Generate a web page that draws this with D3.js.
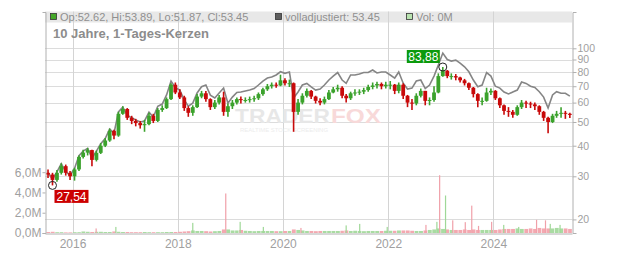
<!DOCTYPE html>
<html>
<head>
<meta charset="utf-8">
<script src="https://cdn.jsdelivr.net/npm/d3@7"></script>
<style>
body { margin: 0; background: #fff; }
svg { display: block; font-family: "Liberation Sans", Arial, sans-serif; }
</style>
</head>
<body>
<svg id="chart"></svg>
<script>
var width = 632;
var height = 253;
var plotLeft = 45, plotRight = 572, plotTop = 12, plotBottom = 233;

// monthly candles, Jul 2015 .. Jun 2025
var firstOpen = 31;
var closes = [30.5, 29, 31, 33, 31, 30,
	32, 36, 37.5, 38.4, 35, 37.4, 40, 42, 46, 44, 54, 56.5,
	52, 50.5, 49.5, 48.5, 49, 53, 50.5, 56, 57, 62, 71, 66,
	63, 57, 54.5, 57.5, 63.5, 65.5, 62, 57.5, 60, 63, 55, 58,
	60, 62, 61.5, 61.5, 62, 62.5, 65, 68, 70, 71, 70.5, 74,
	72, 72, 55, 60, 64, 67, 63.5, 61, 60, 62, 66, 68,
	69, 64, 62.5, 65.5, 66, 66.5, 67.5, 69.5, 70.5, 71.5, 70, 71,
	71, 67, 71, 64, 60, 59.5, 64, 67, 61, 61.5, 66, 77,
	81, 77, 77, 76, 74, 72, 69, 65, 61, 61, 66, 67,
	62.5, 58.5, 55.5, 55, 53.5, 57.5, 60, 59.5, 59, 58, 55, 52,
	50, 53, 54, 54.5, 54, 53.45];
var highs = [32, 31, 31.8, 33.9, 33.5, 31.5,
	32.5, 36.5, 38.5, 39.2, 38.5, 38.2, 41, 43, 47, 46.5, 55, 58,
	57, 53, 51.5, 50.5, 51, 54.5, 54, 57, 58.5, 63, 72, 72.5,
	68, 64, 58, 58.5, 65, 67, 67, 62.5, 61.5, 64.5, 66.5, 59.5,
	61.5, 63, 63.5, 63, 63.5, 64, 66, 69, 71.5, 72.5, 72.5, 78,
	75.5, 74.5, 72.5, 62, 65.5, 68.5, 67.5, 64, 62.5, 63.5, 67.5, 69.5,
	71, 70, 65, 66.5, 68, 68, 69, 71, 72.5, 73, 72.5, 73,
	73.5, 71.5, 72.5, 72, 64.5, 62, 65.5, 68.5, 67, 63, 70, 79,
	83.88, 81.5, 79, 78.5, 76.5, 75, 72.5, 69.5, 65.5, 63, 69, 68.5,
	67.5, 63, 59, 57.5, 56, 58.5, 61.5, 61, 60.5, 60, 58.5, 55.5,
	52.5, 54, 55.5, 57.5, 55.5, 54.5];
var lows = [29.5, 27.54, 28.5, 30.5, 30.2, 29,
	28.8, 31.5, 35.5, 36.5, 33, 34.5, 37, 39.5, 41.5, 42.5, 43.5, 53.5,
	51, 49, 48, 47, 45.6, 48.5, 49.5, 50, 55, 56.5, 61.5, 65,
	62, 55.5, 52.5, 53, 57, 62.5, 60.5, 56, 56.5, 59, 53, 52.5,
	56.5, 59, 59.5, 60, 60, 60.5, 61.5, 64, 67, 68.5, 69, 70,
	70.5, 69.5, 45.6, 53.5, 59, 63, 62, 59.5, 58.5, 59, 61.5, 65.5,
	66.5, 62.5, 60, 61.5, 64, 64.5, 65, 66.5, 68, 68.5, 68, 68.5,
	68, 65, 65.5, 62, 57.5, 56, 58.5, 63, 58.5, 58.5, 60.5, 65.5,
	76.5, 75.5, 74.5, 74, 72.5, 70.5, 67.5, 63, 57.5, 58.5, 60.5, 64.5,
	61.5, 57, 53.5, 52.5, 52, 53, 56.5, 57, 57, 56, 53.5, 50.5,
	45, 49.5, 52, 52, 51.5, 51.87];
// volladjustiert (gray line)
var adjusted = [31, 29.2, 31.3, 33.8, 31.3, 30.3,
	32.3, 36.4, 38, 39, 35.6, 38, 40.8, 42.8, 46.8, 45, 55, 57.5,
	53.3, 52, 51, 50, 50.5, 54.8, 52.4, 58, 59.2, 64.5, 73.5, 69,
	67.5, 61.5, 58, 59.7, 65.7, 69.7, 70.8, 64.4, 62.7, 65.7, 68.8, 59.7,
	63.2, 66, 66.3, 66.9, 67.5, 68.5, 70.8, 73.5, 75.6, 76.3, 77.8, 80.2,
	79, 80, 62.7, 66.3, 70.8, 71.9, 69.5, 67.5, 68.2, 70.8, 74.2, 77,
	79.6, 74.2, 71.9, 77.8, 77.8, 78.5, 79.6, 79.6, 81.5, 79.3, 80, 80,
	77.8, 75.6, 80, 72, 68.2, 68.8, 73.5, 74.2, 68.5, 70.8, 77, 85.5,
	95.6, 90, 88.7, 89.5, 87, 84, 80.2, 74.2, 69.7, 70.8, 79.6, 77,
	70, 68.8, 66.3, 65.1, 66.3, 67.5, 72.8, 71.9, 70, 69.2, 66.5, 63.2,
	57, 64.5, 66.5, 65.5, 65.5, 63.8];
// typical daily volume per month, in millions
var volumes = [0.1, 0.12, 0.08, 0.08, 0.06, 0.06,
	0.08, 0.08, 0.15, 0.12, 0.1, 0.12, 0.12, 0.1, 0.1, 0.15, 0.12, 0.1,
	0.1, 0.08, 0.08, 0.08, 0.1, 0.08, 0.08, 0.08, 0.08, 0.1, 0.1, 0.1,
	0.12, 0.15, 0.18, 0.25, 0.2, 0.2, 0.18, 0.15, 0.18, 0.2, 0.35, 0.35,
	0.25, 0.25, 0.3, 0.22, 0.2, 0.18, 0.2, 0.2, 0.2, 0.2, 0.18, 0.18,
	0.2, 0.2, 0.35, 0.3, 0.25, 0.2, 0.2, 0.18, 0.2, 0.2, 0.2, 0.2,
	0.2, 0.22, 0.25, 0.2, 0.22, 0.2, 0.18, 0.2, 0.2, 0.2, 0.2, 0.22,
	0.22, 0.22, 0.25, 0.25, 0.25, 0.22, 0.2, 0.2, 0.25, 0.3, 0.35, 0.45,
	0.4, 0.35, 0.3, 0.3, 0.3, 0.35, 0.3, 0.35, 0.3, 0.3, 0.3, 0.3,
	0.3, 0.35, 0.4, 0.4, 0.4, 0.45, 0.4, 0.4, 0.45, 0.4, 0.5, 0.45,
	0.45, 0.45, 0.5, 0.45, 0.45, 0.4];
// single high-volume days
var spikeDates = ["2016-06-13", "2016-10-28", "2018-04-15", "2018-11-30", "2019-03-10", "2019-08-18",
	"2020-05-05", "2021-03-15", "2021-06-17", "2021-12-25", "2022-09-20", "2022-12-05", "2022-12-24",
	"2023-02-03", "2023-03-25", "2023-06-20", "2023-08-04", "2023-09-20", "2023-12-20", "2024-03-13",
	"2024-06-25", "2024-10-27", "2024-12-28", "2025-01-30", "2025-04-08"];
var spikeVolumes = [0.45, 0.6, 1.0, 3.9, 1.1, 0.6,
	0.5, 0.75, 0.9, 0.6, 0.8, 1.1, 5.7,
	3.7, 1.25, 1.07, 2.7, 0.7, 1.1, 0.8,
	0.6, 1.3, 1.25, 0.9, 0.8];
var spikeUp = [false, true, true, false, true, true,
	false, true, true, true, false, true, false,
	true, false, false, false, false, false, true,
	true, false, false, true, true];

var priceTicks = [20, 30, 40, 50, 60, 70, 80, 90, 100];
var volumeTicks = [0, 2, 4, 6];
var yearTicks = [2016, 2018, 2020, 2022, 2024];

var green = "#3ba22c", red = "#c80a0a";

var months = d3.timeMonth.range(new Date(2015, 6, 1), new Date(2025, 6, 1));
var candles = months.map(function(m, i) {
	return {
		start: m,
		end: d3.timeMonth.offset(m, 1),
		date: d3.timeDay.offset(m, 14),
		open: i ? closes[i - 1] : firstOpen,
		close: closes[i], high: highs[i], low: lows[i],
		adj: adjusted[i], vol: volumes[i]
	};
});
var spikes = spikeDates.map(function(d, i) {
	return {date: d3.timeParse("%Y-%m-%d")(d), vol: spikeVolumes[i], up: spikeUp[i]};
});

var xScale = d3.scaleTime()
	.domain([new Date(2015, 5, 24), new Date(2025, 5, 30)])
	.range([plotLeft, plotRight]);
var yScale = d3.scaleLog()
	.domain([17.6, 140.7])
	.range([plotBottom, plotTop]);
var volScale = d3.scaleLinear()
	.domain([0, 21.8])
	.range([plotBottom, plotTop]);

var svg = d3.select('#chart')
	.attr('width', width)
	.attr('height', height);

// legend bar background
svg.append('rect')
	.attr('x', plotLeft).attr('y', 11.5)
	.attr('width', plotRight - plotLeft).attr('height', 11)
	.attr('fill', '#e8e8e8');

// grid
svg.append('g').selectAll('line')
	.data(priceTicks).enter().append('line')
	.attr('x1', plotLeft).attr('x2', plotRight)
	.attr('y1', d => Math.round(yScale(d)) + 0.5)
	.attr('y2', d => Math.round(yScale(d)) + 0.5)
	.attr('stroke', '#dcdcdc');
svg.append('g').selectAll('line')
	.data(yearTicks).enter().append('line')
	.attr('x1', d => Math.round(xScale(new Date(d, 0, 1))) + 0.5)
	.attr('x2', d => Math.round(xScale(new Date(d, 0, 1))) + 0.5)
	.attr('y1', 11.5).attr('y2', plotBottom)
	.attr('stroke', '#d4d4d4');

// watermark
var mark = svg.append('g');
mark.append('text')
	.attr('x', 235).attr('y', 123)
	.attr('textLength', 95).attr('lengthAdjust', 'spacingAndGlyphs')
	.style('font-size', '19.5px').style('font-weight', 'bold')
	.attr('fill', '#e7e7e7')
	.text('TRADER');
mark.append('text')
	.attr('x', 331).attr('y', 123)
	.attr('textLength', 50).attr('lengthAdjust', 'spacingAndGlyphs')
	.style('font-size', '19.5px').style('font-weight', 'bold')
	.attr('fill', '#f8d9d9')
	.text('FOX');
mark.append('text')
	.attr('x', 240).attr('y', 131.5)
	.attr('textLength', 88).attr('lengthAdjust', 'spacingAndGlyphs')
	.style('font-size', '5.5px')
	.attr('fill', '#ececec')
	.text('REALTIME STOCK SCREENING');

// volume
svg.append('g').selectAll('rect')
	.data(candles).enter().append('rect')
	.attr('x', d => xScale(d.start) + 0.3)
	.attr('width', d => xScale(d.end) - xScale(d.start) - 0.6)
	.attr('y', d => volScale(d.vol))
	.attr('height', d => volScale(0) - volScale(d.vol))
	.attr('fill', d => d.close >= d.open ? '#a9dba2' : '#f3a8b0');
svg.append('g').selectAll('rect')
	.data(spikes).enter().append('rect')
	.attr('x', d => xScale(d.date) - 0.6)
	.attr('width', 1.2)
	.attr('y', d => volScale(d.vol))
	.attr('height', d => volScale(0) - volScale(d.vol))
	.attr('fill', d => d.up ? '#9fd897' : '#f0a0a9');

// adjusted line
svg.append('path')
	.datum(candles)
	.attr('d', d3.line().x(d => xScale(d.date)).y(d => yScale(d.adj)))
	.attr('fill', 'none')
	.attr('stroke', '#858585')
	.attr('stroke-width', 1.6);

// candles
var candleG = svg.append('g');
candleG.selectAll('line')
	.data(candles).enter().append('line')
	.attr('x1', d => xScale(d.date)).attr('x2', d => xScale(d.date))
	.attr('y1', d => yScale(d.high)).attr('y2', d => yScale(d.low))
	.attr('stroke', d => d.close >= d.open ? green : red)
	.attr('stroke-width', 1.6);
candleG.selectAll('rect')
	.data(candles).enter().append('rect')
	.attr('x', d => xScale(d.date) - 1.9)
	.attr('width', 3.8)
	.attr('y', d => yScale(Math.max(d.open, d.close)))
	.attr('height', d => Math.max(1, Math.abs(yScale(d.open) - yScale(d.close))))
	.attr('fill', d => d.close >= d.open ? green : red);

// axes
var rightAxis = d3.axisRight(yScale)
	.tickValues(priceTicks)
	.tickFormat(d3.format('d'))
	.tickSize(4)
	.tickPadding(1);
var leftAxis = d3.axisLeft(volScale)
	.tickValues(volumeTicks)
	.tickFormat(d => d.toFixed(1).replace('.', ',') + 'M')
	.tickSize(3)
	.tickPadding(1);
var bottomAxis = d3.axisBottom(xScale)
	.tickValues(yearTicks.map(y => new Date(y, 0, 1)))
	.tickFormat(d3.timeFormat('%Y'))
	.tickSize(0)
	.tickPadding(6);

svg.append('g')
	.attr('class', 'axis right')
	.attr('transform', 'translate(' + (plotRight + 0.5) + ',0)')
	.call(rightAxis);
svg.append('g')
	.attr('class', 'axis')
	.attr('transform', 'translate(' + (plotLeft + 0.5) + ',0)')
	.call(leftAxis);
svg.append('g')
	.attr('class', 'axis')
	.attr('transform', 'translate(0,' + (plotBottom + 0.5) + ')')
	.call(bottomAxis);

svg.selectAll('.axis path').attr('stroke', '#b0b0b0');
svg.selectAll('.axis line').attr('stroke', '#b0b0b0');
svg.selectAll('.axis text')
	.attr('fill', '#a0a0a0')
	.style('font-size', '12px')
	.style('font-family', '"Liberation Sans", Arial, sans-serif');
svg.selectAll('.right text')
	.style('font-size', '10.5px');

// title and legend
svg.append('text')
	.attr('x', 53).attr('y', 38)
	.style('font-size', '13px').style('font-weight', 'bold')
	.attr('fill', '#8c8c8c')
	.text('10 Jahre, 1-Tages-Kerzen');

var legendItems = [
	{x: 50, color: '#44a829', label: 'Op:52.62, Hi:53.89, Lo:51.87, Cl:53.45'},
	{x: 275, color: '#5e5e5e', label: 'volladjustiert: 53.45'},
	{x: 406, color: '#b9e3b0', label: 'Vol: 0M'}
];
var legend = svg.append('g').selectAll('g')
	.data(legendItems).enter().append('g');
legend.append('rect')
	.attr('x', d => d.x + 0.5).attr('y', 13.5)
	.attr('width', 6).attr('height', 6)
	.attr('fill', d => d.color)
	.attr('stroke', '#333').attr('stroke-width', 0.8);
legend.append('text')
	.attr('x', d => d.x + 10).attr('y', 20.5)
	.style('font-size', '11px')
	.attr('fill', '#909090')
	.text(d => d.label);

// min / max markers
var minCandle = d3.least(candles, d => d.low);
var maxCandle = d3.greatest(candles, d => d.high);
var fmt = v => d3.format('.2f')(v).replace('.', ',');

var lowX = xScale(minCandle.date), lowY = yScale(minCandle.low);
svg.append('circle')
	.attr('cx', lowX).attr('cy', lowY).attr('r', 4)
	.attr('fill', 'none').attr('stroke', '#222');
svg.append('rect')
	.attr('x', lowX + 2).attr('y', lowY + 4.5)
	.attr('width', 34).attr('height', 13)
	.attr('fill', '#cc0000');
svg.append('text')
	.attr('x', lowX + 19).attr('y', lowY + 15.3)
	.style('font-size', '12px').style('text-anchor', 'middle')
	.attr('fill', '#fff')
	.text(fmt(minCandle.low));

var highX = xScale(maxCandle.date), highY = yScale(maxCandle.high);
svg.append('circle')
	.attr('cx', highX).attr('cy', highY).attr('r', 4)
	.attr('fill', 'none').attr('stroke', '#222');
svg.append('rect')
	.attr('x', highX - 36).attr('y', highY - 17)
	.attr('width', 33).attr('height', 13)
	.attr('fill', '#0c9a0c');
svg.append('text')
	.attr('x', highX - 19.5).attr('y', highY - 6.3)
	.style('font-size', '12px').style('text-anchor', 'middle')
	.attr('fill', '#fff')
	.text(fmt(maxCandle.high));
</script>
</body>
</html>
